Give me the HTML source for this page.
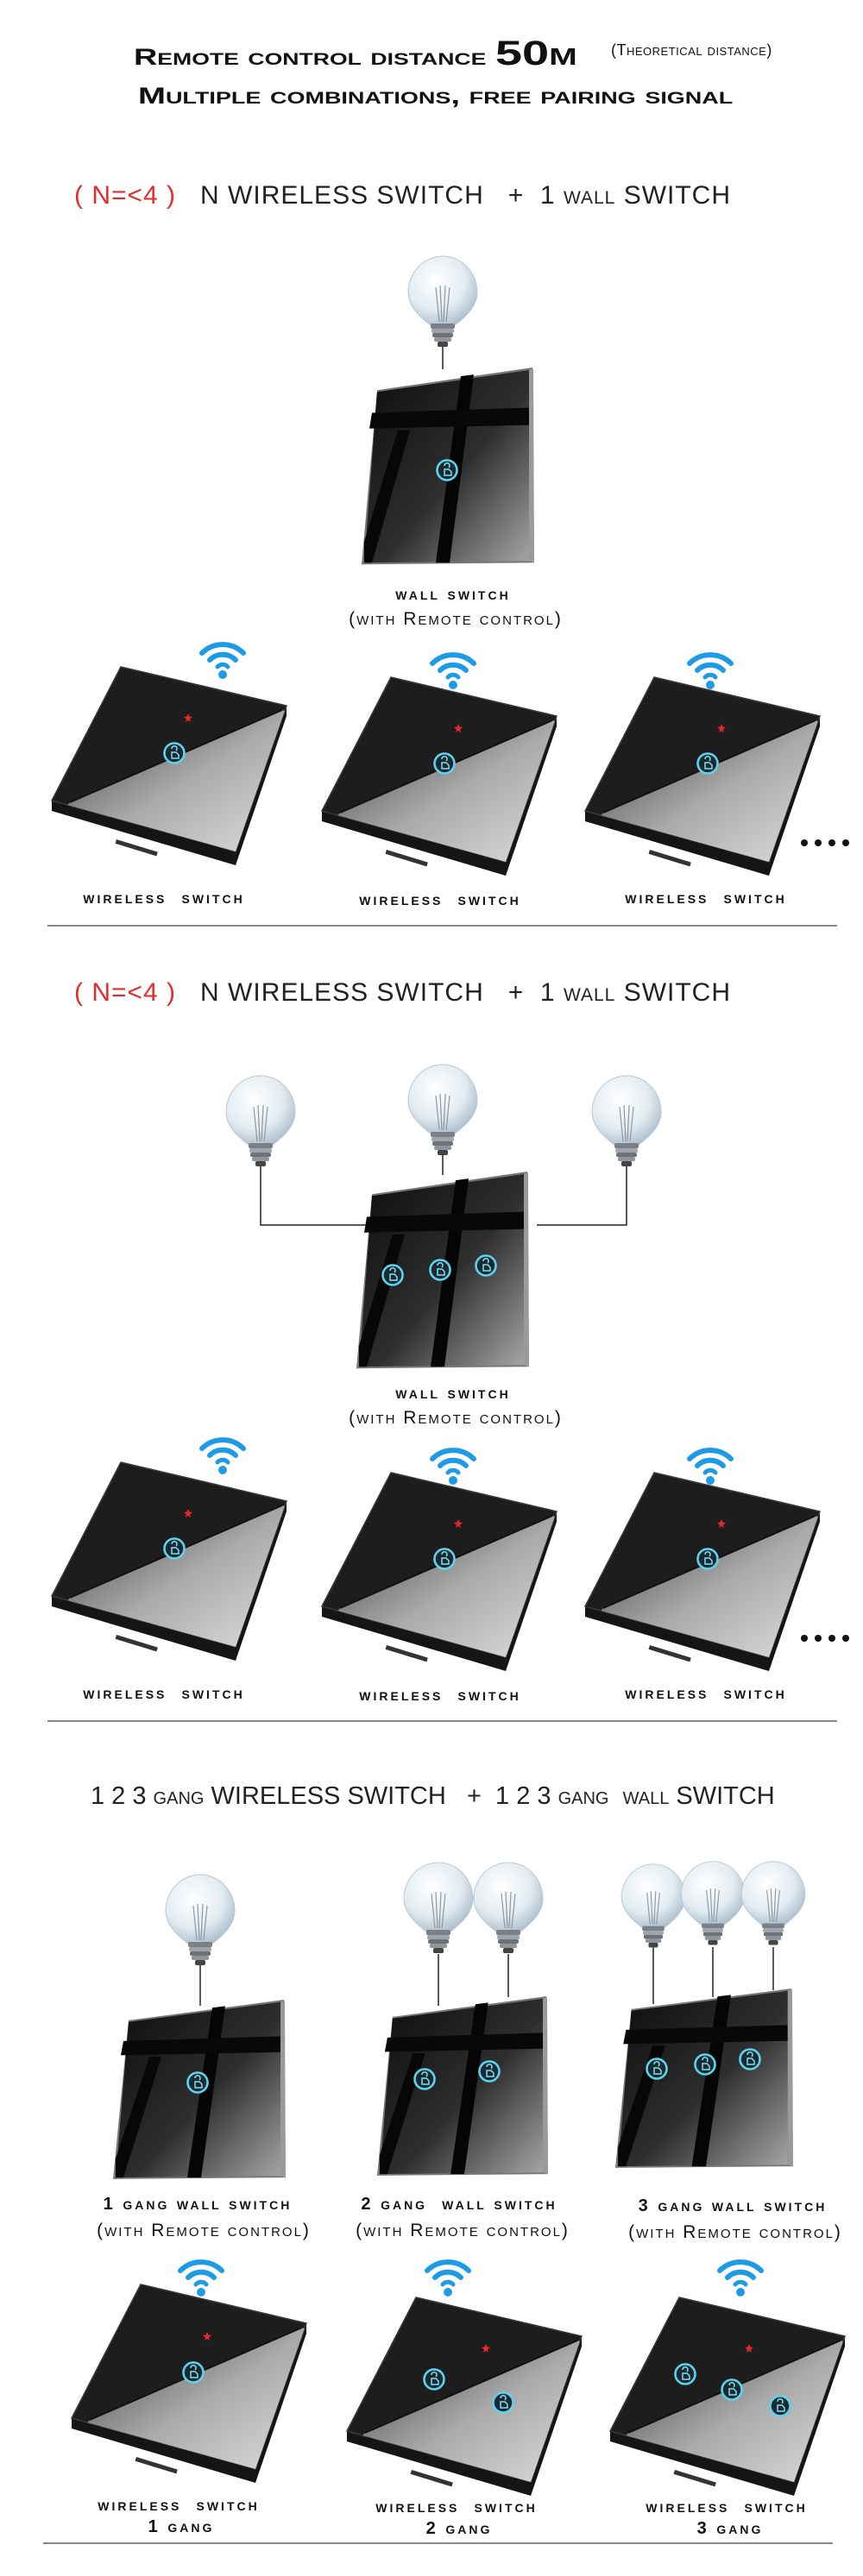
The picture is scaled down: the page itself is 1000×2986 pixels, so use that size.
<!DOCTYPE html>
<html><head><meta charset="utf-8"><style>
html,body{margin:0;padding:0;background:#fff;}
body{width:1000px;height:2986px;position:relative;overflow:hidden;font-family:"Liberation Sans",sans-serif;}
.t{position:absolute;white-space:nowrap;color:#111;}
.sc{font-variant:small-caps;}
.b{font-weight:bold;}
.c{transform:translateX(-50%);}
.lab{font-weight:bold;font-variant:small-caps;font-size:20px;letter-spacing:3px;}
.sub{font-variant:small-caps;font-size:21px;letter-spacing:2px;}
.hd{font-size:30px;font-variant:small-caps;color:#222;letter-spacing:1px;}
svg{position:absolute;left:0;top:0;}
</style></head><body>
<svg width="1000" height="2986" viewBox="0 0 1000 2986">
<defs>
<radialGradient id="glass" cx="0.4" cy="0.35" r="0.7">
<stop offset="0" stop-color="#ffffff"/><stop offset="0.6" stop-color="#e3ecf2"/><stop offset="1" stop-color="#a9bccb"/></radialGradient>
<linearGradient id="wallg" x1="0" y1="0" x2="1" y2="1">
<stop offset="0" stop-color="#0d0d0d"/><stop offset="0.55" stop-color="#2e2e2e"/><stop offset="1" stop-color="#a5a5a5"/></linearGradient>
<linearGradient id="glossg" x1="0" y1="0" x2="1" y2="1">
<stop offset="0" stop-color="#333"/><stop offset="0.5" stop-color="#aaa"/><stop offset="1" stop-color="#e8e8e8"/></linearGradient>
<clipPath id="wcl"><polygon points="85,13 277,58 218,227 5,168"/></clipPath>
<g id="bulb">
<path d="M-14,32 C-30,20 -40,8 -40,-6 A40,42 0 1 1 40,-6 C40,8 30,20 14,32 Z" fill="url(#glass)" stroke="#b9c8d4" stroke-width="1"/>
<path d="M-8,-12 L-4,28 M8,-12 L4,28 M-3,-14 L-1,28 M3,-14 L1,28" stroke="#8d98a2" stroke-width="1.2" fill="none"/>
<rect x="-14" y="30" width="28" height="6" rx="2" fill="#7a8088"/>
<rect x="-13" y="36" width="26" height="5" rx="2" fill="#9ea4aa"/>
<rect x="-12" y="41" width="24" height="5" rx="2" fill="#6c7278"/>
<rect x="-10" y="46" width="20" height="5" rx="2" fill="#8f959b"/>
<rect x="-6" y="51" width="12" height="6" rx="2" fill="#444"/>
</g>
<g id="btn">
<circle r="11.5" fill="#1a2a30" stroke="#5fd3ee" stroke-width="2.6"/>
<path d="M-3,-5 a3,3 0 1 1 5,2 M-3,6 l0,-7 l5,0 l3,3 l0,4 z" stroke="#7fe0f5" stroke-width="1.5" fill="none"/>
</g>
<g id="wall">
<polygon points="18,26 198,0 200,224 0,226" fill="#777" />
<polygon points="18,28 194,3 194,222 3,224" fill="url(#wallg)"/>
<polygon points="115,10 130,8 102,224 86,224" fill="#050505"/>
<polygon points="12,52 194,46 194,66 9,70" fill="#080808"/>
<polygon points="42,72 56,72 12,224 3,224 3,200" fill="#070707"/>
<polygon points="194,3 199,1 200,224 194,222" fill="#9a9a9a"/>
</g>
<g id="wless">
<polygon points="5,168 5,180 218,243 277,70 277,58 218,227" fill="#151515"/>
<polygon points="85,13 277,58 218,227 5,168" fill="#1d1d1d" stroke="#3a3a3a" stroke-width="1.5"/>
<polygon clip-path="url(#wcl)" points="26,170 272,63 290,70 230,250 0,200" fill="url(#glossg)"/>
<line x1="26" y1="170" x2="272" y2="63" stroke="#111" stroke-width="2"/>
<rect x="80" y="213" width="50" height="5" fill="#333" transform="rotate(17 80 213)"/>
</g>
<g id="star"><path d="M0,-5 L1.5,-1.5 5,-1 2,1.5 3,5 0,3 -3,5 -2,1.5 -5,-1 -1.5,-1.5Z" fill="#e8262b"/></g>
<g id="wifi" fill="none" stroke="#1e9be6" stroke-linecap="round">
<path d="M-24,-8 A34,34 0 0 1 24,-8" stroke-width="6"/>
<path d="M-15,0 A21,21 0 0 1 15,0" stroke-width="6"/>
<path d="M-6,8 A8,8 0 0 1 6,8" stroke-width="5"/>
<circle cx="0" cy="17" r="5" fill="#1e9be6" stroke="none"/>
</g>
</defs>

<!-- Section 1 -->
<line x1="513" y1="400" x2="513" y2="428" stroke="#222" stroke-width="1.5"/>
<use href="#bulb" x="513" y="345"/>
<use href="#wall" transform="translate(419,426) scale(1,1.01)"/>
<use href="#btn" x="518" y="545"/>
<use href="#wless" x="55" y="760"/><use href="#star" x="218" y="832"/><use href="#btn" x="202" y="873"/><use href="#wifi" x="258" y="765"/>
<use href="#wless" x="368" y="772"/><use href="#star" x="531" y="844"/><use href="#btn" x="515" y="885"/><use href="#wifi" x="525" y="777"/>
<use href="#wless" x="673" y="772"/><use href="#star" x="836" y="844"/><use href="#btn" x="820" y="885"/><use href="#wifi" x="823" y="777"/>
<g fill="#111"><circle cx="932" cy="977" r="4"/><circle cx="948" cy="977" r="4"/><circle cx="964" cy="977" r="4"/><circle cx="980" cy="977" r="4"/></g>
<line x1="55" y1="1073" x2="970" y2="1073" stroke="#888" stroke-width="2"/>

<!-- Section 2 -->
<path d="M302,1350 V1420 H425 M726,1350 V1420 H622 M513,1338 V1362" stroke="#222" stroke-width="1.5" fill="none"/>
<use href="#bulb" x="302" y="1295"/><use href="#bulb" x="513" y="1282"/><use href="#bulb" x="726" y="1295"/>
<use href="#wall" transform="translate(413,1358) scale(1,1.01)"/>
<use href="#btn" x="455" y="1478"/><use href="#btn" x="510" y="1472"/><use href="#btn" x="563" y="1467"/>
<use href="#wless" x="55" y="1682"/><use href="#star" x="218" y="1754"/><use href="#btn" x="202" y="1795"/><use href="#wifi" x="258" y="1687"/>
<use href="#wless" x="368" y="1694"/><use href="#star" x="531" y="1766"/><use href="#btn" x="515" y="1807"/><use href="#wifi" x="525" y="1699"/>
<use href="#wless" x="673" y="1694"/><use href="#star" x="836" y="1766"/><use href="#btn" x="820" y="1807"/><use href="#wifi" x="823" y="1699"/>
<g fill="#111"><circle cx="932" cy="1899" r="4"/><circle cx="948" cy="1899" r="4"/><circle cx="964" cy="1899" r="4"/><circle cx="980" cy="1899" r="4"/></g>
<line x1="55" y1="1995" x2="970" y2="1995" stroke="#888" stroke-width="2"/>

<!-- Section 3 -->
<g stroke="#222" stroke-width="1.5">
<line x1="232" y1="2275" x2="232" y2="2325"/>
<line x1="508" y1="2265" x2="508" y2="2325"/><line x1="589" y1="2265" x2="589" y2="2315"/>
<line x1="757" y1="2257" x2="757" y2="2323"/><line x1="826" y1="2257" x2="826" y2="2315"/><line x1="896" y1="2257" x2="896" y2="2307"/>
</g>
<use href="#bulb" x="232" y="2221"/>
<use href="#bulb" x="508" y="2207"/><use href="#bulb" x="589" y="2207"/>
<use href="#bulb" transform="translate(757,2205) scale(0.92)"/><use href="#bulb" transform="translate(826,2202) scale(0.92)"/><use href="#bulb" transform="translate(896,2202) scale(0.92)"/>
<use href="#wall" transform="translate(131,2318) scale(1,0.92)"/>
<use href="#wall" transform="translate(437,2314) scale(0.99,0.92)"/>
<use href="#wall" transform="translate(713,2305) scale(1.03,0.92)"/>
<use href="#btn" x="229" y="2414"/>
<use href="#btn" x="492" y="2410"/><use href="#btn" x="567" y="2401"/>
<use href="#btn" x="761" y="2398"/><use href="#btn" x="817" y="2393"/><use href="#btn" x="869" y="2387"/>
<use href="#wless" x="78" y="2635"/><use href="#star" x="240" y="2708"/><use href="#btn" x="224" y="2750"/><use href="#wifi" x="233" y="2640"/>
<use href="#wless" x="397" y="2650"/><use href="#star" x="563" y="2722"/><use href="#btn" x="503" y="2758"/><use href="#btn" x="583" y="2785"/><use href="#wifi" x="519" y="2640"/>
<use href="#wless" x="702" y="2650"/><use href="#star" x="868" y="2722"/><use href="#btn" x="794" y="2752"/><use href="#btn" x="848" y="2770"/><use href="#btn" x="904" y="2789"/><use href="#wifi" x="858" y="2640"/>
<line x1="50" y1="2948" x2="965" y2="2948" stroke="#888" stroke-width="2"/>
</svg>

<!-- Titles -->
<div class="t sc b" style="left:155px;top:40px;font-size:27px;transform:scaleX(1.4);transform-origin:left;">Remote control distance <span style="font-size:40px;">50m</span></div>
<div class="t sc" style="left:708px;top:48px;font-size:18px;letter-spacing:0.5px;">(Theoretical distance)</div>
<div class="t sc b" style="left:160px;top:96px;font-size:27px;transform:scaleX(1.42);transform-origin:left;">Multiple combinations, free pairing signal</div>

<div class="t hd" style="left:86px;top:210px;"><span style="color:#e52b2b;">( N=&lt;4 )</span>&nbsp;&nbsp; N WIRELESS SWITCH &nbsp; + &nbsp;1 wall SWITCH</div>
<div class="t lab c" style="left:525px;top:678px;">wall switch</div>
<div class="t sub c" style="left:528px;top:706px;">(with Remote control)</div>
<div class="t lab c" style="left:190px;top:1030px;">wireless&nbsp; switch</div>
<div class="t lab c" style="left:510px;top:1032px;">wireless&nbsp; switch</div>
<div class="t lab c" style="left:818px;top:1030px;">wireless&nbsp; switch</div>

<div class="t hd" style="left:86px;top:1134px;"><span style="color:#e52b2b;">( N=&lt;4 )</span>&nbsp;&nbsp; N WIRELESS SWITCH &nbsp; + &nbsp;1 wall SWITCH</div>
<div class="t lab c" style="left:525px;top:1604px;">wall switch</div>
<div class="t sub c" style="left:528px;top:1632px;">(with Remote control)</div>
<div class="t lab c" style="left:190px;top:1952px;">wireless&nbsp; switch</div>
<div class="t lab c" style="left:510px;top:1954px;">wireless&nbsp; switch</div>
<div class="t lab c" style="left:818px;top:1952px;">wireless&nbsp; switch</div>

<div class="t hd" style="left:105px;top:2066px;letter-spacing:0;font-size:29px;">1 2 3 gang WIRELESS SWITCH &nbsp; + &nbsp;1 2 3 gang &nbsp;wall SWITCH</div>
<div class="t lab c" style="left:229px;top:2544px;">1 gang wall switch</div>
<div class="t sub c" style="left:236px;top:2574px;">(with Remote control)</div>
<div class="t lab c" style="left:532px;top:2544px;">2 gang&nbsp; wall switch</div>
<div class="t sub c" style="left:536px;top:2574px;">(with Remote control)</div>
<div class="t lab c" style="left:849px;top:2546px;">3 gang wall switch</div>
<div class="t sub c" style="left:852px;top:2576px;">(with Remote control)</div>
<div class="t lab c" style="left:207px;top:2893px;">wireless&nbsp; switch</div>
<div class="t lab c" style="left:210px;top:2918px;">1 gang</div>
<div class="t lab c" style="left:529px;top:2895px;">wireless&nbsp; switch</div>
<div class="t lab c" style="left:532px;top:2920px;">2 gang</div>
<div class="t lab c" style="left:842px;top:2895px;">wireless&nbsp; switch</div>
<div class="t lab c" style="left:846px;top:2920px;">3 gang</div>
</body></html>
